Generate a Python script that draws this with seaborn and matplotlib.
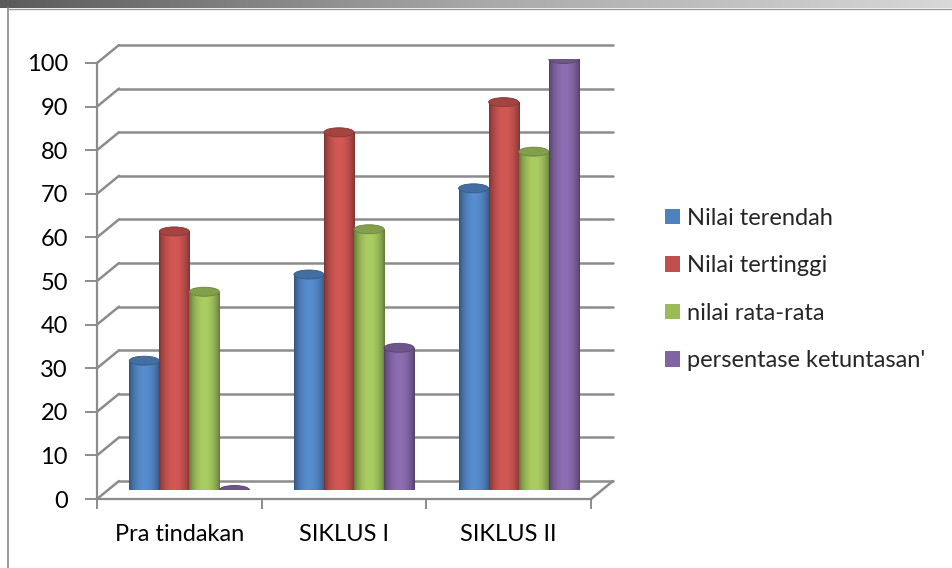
import numpy as np
import pandas as pd
import matplotlib
matplotlib.use("Agg")
import matplotlib.pyplot as plt
import seaborn as sns
from matplotlib.patches import Patch, Ellipse
from matplotlib.colors import to_rgb

# ---------------- data ----------------
categories = ["Pra tindakan", "SIKLUS I", "SIKLUS II"]
series = ["Nilai terendah", "Nilai tertinggi", "nilai rata-rata", "persentase ketuntasan'"]
nilai_terendah = [30, 50, 70]
nilai_tertinggi = [60, 83, 90]
nilai_rata_rata = [46, 60.5, 78.5]
persentase_ketuntasan = [0, 33, 100]
y_ticks = [0, 10, 20, 30, 40, 50, 60, 70, 80, 90, 100]
colors = ["#4F81BD", "#C0504D", "#9BBB59", "#8064A2"]

values = [nilai_terendah, nilai_tertinggi, nilai_rata_rata, persentase_ketuntasan]
df = pd.DataFrame({
    "kategori": [c for s in series for c in categories],
    "seri": [s for s in series for c in categories],
    "nilai": [v for vals in values for v in vals],
})

# ---------------- figure ----------------
W, H = 952, 568
DPI = 100
sns.set_theme(style="white")
plt.rcParams["font.family"] = ["Lato", "DejaVu Sans"]
FS = 17
fig = plt.figure(figsize=(W / DPI, H / DPI), dpi=DPI)
fig.patch.set_facecolor("white")

# window-like frame: top gradient strip and left border
strip = fig.add_axes([0, 1 - 8 / H, 1, 8 / H])
grad = np.linspace(0, 1, 256)[None, :]
strip.imshow(grad, aspect="auto", cmap=matplotlib.colors.LinearSegmentedColormap.from_list(
    "g", ["#5a5a5a", "#a8a8a8", "#d8d8d8"]), extent=[0, 1, 0, 1])
strip.set_axis_off()
fig.add_artist(plt.Line2D([8 / W, 8 / W], [0, 1 - 8 / H], transform=fig.transFigure,
                          color="#8a8a8a", lw=1.2))
fig.add_artist(plt.Line2D([8 / W, 1], [1 - 9 / H, 1 - 9 / H], transform=fig.transFigure,
                          color="#9a9a9a", lw=1.0))

# front frame axes (pixel geometry from reference)
x0, x1 = 97, 591          # front floor left/right
y0, y100 = 499, 63        # front value 0 / 100 (from top)
ax = fig.add_axes([x0 / W, (H - y0) / H, (x1 - x0) / W, (y0 - y100) / H])
ax.set_xlim(-0.5, 2.5)
ax.set_ylim(0, 100)
ax.patch.set_alpha(0)

px_x = (x1 - x0) / 3.0
px_y = (y0 - y100) / 100.0
bdx, bdy = 22 / px_x, 18 / px_y     # back-wall depth offset in data units

grid_col = "#8c8c8c"
for v in y_ticks:
    ax.plot([-0.5, -0.5 + bdx], [v, v + bdy], color=grid_col, lw=1.8, clip_on=False, zorder=1)
    ax.plot([-0.5 + bdx, 2.5 + bdx], [v + bdy, v + bdy], color=grid_col, lw=1.8,
            clip_on=False, zorder=1)
ax.plot([2.5, 2.5 + bdx], [0, bdy], color=grid_col, lw=1.8, clip_on=False, zorder=1)

for s in ["top", "right"]:
    ax.spines[s].set_visible(False)
for s in ["left", "bottom"]:
    ax.spines[s].set_color(grid_col)
    ax.spines[s].set_linewidth(1.6)
ax.set_yticks(y_ticks)
ax.set_yticklabels([str(t) for t in y_ticks])
ax.set_xticks(range(3))
ax.set_xticklabels(categories)
ax.set_xticks([-0.5, 0.5, 1.5, 2.5], minor=True)
ax.tick_params(axis="y", left=True, length=9, width=1.4, color=grid_col, pad=12,
               labelsize=FS, labelcolor="black")
ax.tick_params(axis="x", which="major", bottom=False, length=0, pad=18,
               labelsize=FS, labelcolor="black")
ax.tick_params(axis="x", which="minor", bottom=True, length=7, width=1.4, color=grid_col)
ax.grid(False)
ax.set_xlabel("")
ax.set_ylabel("")

# bars axes, shifted to mid depth (slightly smaller scale: perspective)
mdx, mdy = 10, 9
bh = 431
bx = fig.add_axes([(x0 + mdx) / W, (H - y0 + mdy) / H, (x1 - x0) / W, bh / H])
bx.set_zorder(ax.get_zorder() + 1)
bx.patch.set_alpha(0)
sns.barplot(data=df, x="kategori", y="nilai", hue="seri", hue_order=series,
            order=categories, palette=colors, width=0.73, gap=0, legend=False,
            saturation=1, ax=bx, linewidth=0)
bx.set_xlim(-0.5, 2.5)
bx.set_ylim(0, 100)
bx.set_axis_off()

cap_h = 9 / (bh / 100.0)
t = np.linspace(0, 1, 200)
prof = np.sin(np.pi * t) ** 0.7
for p in list(bx.patches):
    c = np.array(to_rgb(p.get_facecolor()))
    xl, w = p.get_x(), p.get_width()
    hgt = p.get_height()
    shade = 0.62 + 0.48 * prof
    img = np.clip(c[None, :] * shade[:, None], 0, 1)[None, :, :]
    p.set_visible(False)
    body = plt.Rectangle((xl, 0), w, hgt, transform=bx.transData)
    bx.add_patch(body)
    body.set_visible(False)
    bot = Ellipse((xl + w / 2, 0), w, cap_h, facecolor=c * 0.85, edgecolor="none", zorder=2)
    bx.add_patch(bot)
    if hgt > 0:
        im = bx.imshow(img, extent=[xl, xl + w, 0, hgt], aspect="auto", zorder=2.1,
                       interpolation="bilinear")
        im.set_clip_path(body)
    imb = bx.imshow(img, extent=[xl, xl + w, -cap_h / 2, 0.01], aspect="auto", zorder=2.05,
                    interpolation="bilinear")
    imb.set_clip_path(bot)
    top = Ellipse((xl + w / 2, hgt), w, cap_h, facecolor=np.clip(c * 0.85, 0, 1),
                  edgecolor=np.clip(c * 0.7, 0, 1), lw=0.6, zorder=2.2)
    bx.add_patch(top)
bx.set_xlim(-0.5, 2.5)
bx.set_ylim(0, 100)

# legend
handles = [Patch(facecolor=c, edgecolor="none") for c in colors]
fig.legend(handles, series, loc="center left", bbox_to_anchor=(665 / W, 1 - 289.5 / H),
           frameon=False, fontsize=FS, handlelength=0.65, handleheight=0.65,
           handletextpad=0.3, labelspacing=1.12, borderpad=0, borderaxespad=0)

fig.savefig("out.png", dpi=DPI)
